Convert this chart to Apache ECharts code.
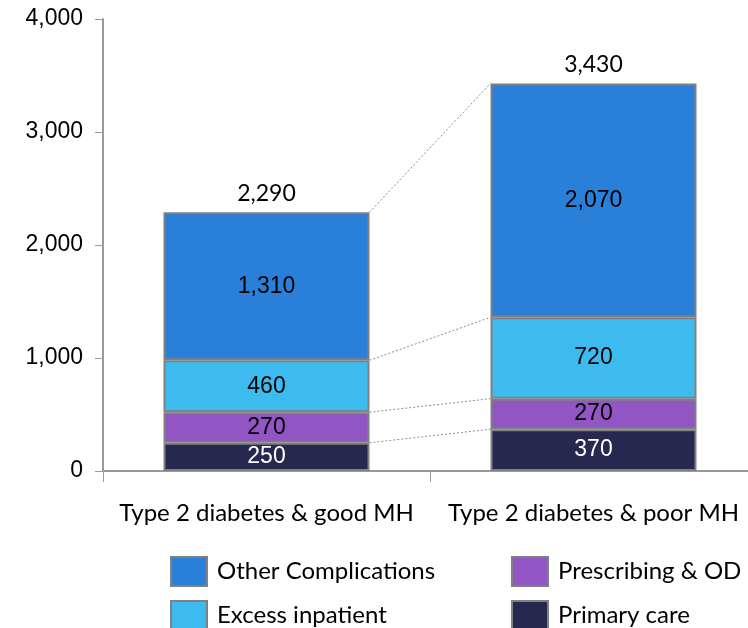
<!DOCTYPE html>
<html><head><meta charset="utf-8">
<script src="https://cdn.jsdelivr.net/npm/echarts@6/dist/echarts.min.js"></script>
<style>html,body{margin:0;padding:0;background:#fff;overflow:hidden}#c{width:748px;height:628px}</style>
</head><body><div id="c"></div>
<script>
const categories = ['Type 2 diabetes & good MH', 'Type 2 diabetes & poor MH'];
const primaryCare = [250, 370];
const prescribing = [270, 270];
const excessInpatient = [460, 720];
const otherComplications = [1310, 2070];
const totals = [2290, 3430];
const yTicks = [0, 1000, 2000, 3000, 4000];

const colors = {
  'Primary care': '#25284f',
  'Prescribing & OD': '#9155c4',
  'Excess inpatient': '#3dbbef',
  'Other Complications': '#2a7fd8'
};
const seriesDefs = [
  ['Primary care', primaryCare, '#ffffff'],
  ['Prescribing & OD', prescribing, '#000000'],
  ['Excess inpatient', excessInpatient, '#000000'],
  ['Other Complications', otherComplications, '#000000']
];
const fmt = v => v.toLocaleString('en-US');
const BAR_RATIO = 0.63;

// cumulative boundaries for connector lines
const boundaries = [];
{
  let c0 = 0, c1 = 0;
  seriesDefs.forEach(d => { c0 += d[1][0]; c1 += d[1][1]; boundaries.push([c0, c1]); });
}

const chart = echarts.init(document.getElementById('c'));
const series = seriesDefs.map(d => ({
  name: d[0], type: 'bar', stack: 'total', barWidth: (BAR_RATIO*100)+'%',
  data: d[1],
  itemStyle: { color: colors[d[0]], borderColor: '#808080', borderWidth: 2 },
  label: { show: true, position: 'inside', formatter: p => fmt(p.value),
    color: d[2], fontFamily: 'Liberation Sans', fontSize: 23 },
  emphasis: { disabled: true }, z: 3
}));
series.push({
  type: 'custom', name: 'connectors', silent: true, z: 2,
  data: boundaries,
  encode: { y: [0, 1] },
  renderItem: (params, api) => {
    const v0 = api.value(0), v1 = api.value(1);
    const p0 = api.coord([0, v0]), p1 = api.coord([1, v1]);
    const bw = api.size([1, 0])[0] * BAR_RATIO / 2;
    return { type: 'line', shape: { x1: p0[0] + bw, y1: p0[1], x2: p1[0] - bw, y2: p1[1] },
      style: { stroke: '#8a8a8a', lineWidth: 1, lineDash: [2, 2] } };
  }
});
series.push({
  type: 'scatter', name: 'totals', symbolSize: 0, silent: true,
  data: totals.map((t, i) => [i, t]),
  itemStyle: { opacity: 1 },
  label: { show: true, position: 'top', distance: 7, formatter: p => fmt(p.value[1]),
    color: '#000', opacity: 1, fontFamily: 'Lato', fontSize: 23 }
});

const legendCommon = {
  orient: 'vertical', itemWidth: 36, itemHeight: 29, itemGap: 13, top: 556, height: 90,
  padding: 0, icon: 'rect',
  itemStyle: { borderColor: '#808080', borderWidth: 2 },
  textStyle: { fontFamily: 'Lato', fontSize: 24, color: '#000', padding: [0, 0, 0, 5] },
  selectedMode: false
};
chart.setOption({
  animation: false,
  color: seriesDefs.map(d => colors[d[0]]),
  grid: { left: 103, right: -9, top: 19, bottom: 157, containLabel: false, outerBoundsMode: 'none' },
  legend: [
    Object.assign({}, legendCommon, { left: 170, data: ['Other Complications', 'Excess inpatient'] }),
    Object.assign({}, legendCommon, { left: 511, data: ['Prescribing & OD', 'Primary care'] })
  ],
  xAxis: {
    type: 'category', data: categories,
    axisLine: { lineStyle: { color: '#999', width: 2 } },
    axisTick: { show: true, length: 11, interval: 0, lineStyle: { color: '#999', width: 1 } },
    axisLabel: { fontFamily: 'Lato', fontSize: 24, color: '#000', margin: 30, interval: 0 }
  },
  yAxis: {
    type: 'value', min: yTicks[0], max: yTicks[yTicks.length-1], interval: 1000,
    axisLine: { show: true, lineStyle: { color: '#999', width: 2 } },
    axisTick: { show: true, length: 8, lineStyle: { color: '#999', width: 1 } },
    splitLine: { show: false },
    axisLabel: { fontFamily: 'Liberation Sans', fontSize: 23, color: '#000', margin: 20,
      formatter: v => fmt(v) }
  },
  series: series
});
</script></body></html>
